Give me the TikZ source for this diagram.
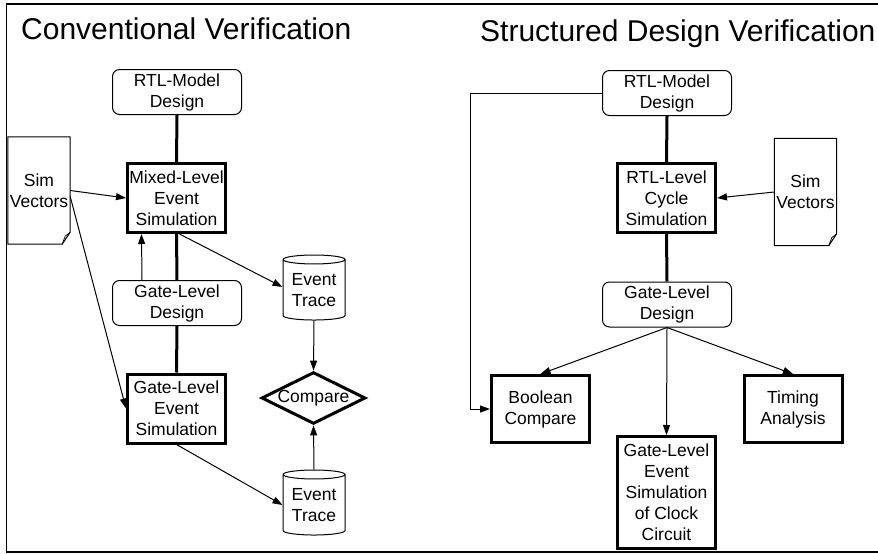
\documentclass[tikz,border=0pt]{standalone}
\usepackage{fontspec}
\setmainfont{Liberation Sans}
\usetikzlibrary{shapes.geometric,arrows.meta}

\tikzset{
  x=1pt, y=-1pt,
  lbl/.style={font=\fontsize{17.5}{21}\selectfont, align=center, inner sep=0pt},
  ttl/.style={font=\fontsize{30}{36}\selectfont, inner sep=0pt, anchor=base west},
  rbox/.style={lbl, draw, line width=1pt, rounded corners=7pt,
               minimum width=129pt, minimum height=45pt},
  tbox/.style={lbl, draw, line width=3pt, minimum width=98pt, minimum height=69pt},
  drum/.style={lbl, draw, line width=1pt, cylinder, shape border rotate=90,
               aspect=0.2, minimum width=62pt, minimum height=65pt},
  decide/.style={lbl, draw, line width=3pt, diamond, aspect=2,
                 minimum width=104pt, minimum height=50pt},
  docnode/.style={lbl, minimum width=62pt, minimum height=107pt},
  flow/.style={line width=1pt, -{Triangle[length=10pt,width=7pt]}},
  link/.style={line width=1pt},
  spine/.style={line width=3pt},
}

\begin{document}
\begin{tikzpicture}
\useasboundingbox (0,0) rectangle (878,554);

% outer frame (open on the right)
\draw[line width=1.3pt] (880,4) -- (6.5,4) -- (6.5,552) -- (880,552);
\draw[line width=2pt] (6.5,552) -- (880,552);

% ---------------- Conventional Verification ----------------
\node[ttl] (tL) at (21,39) {Conventional Verification};

\node[rbox] (rtlL) at (177,92)    {RTL-Model\\Design};
\node[tbox] (mixL) at (176.5,198) {Mixed-Level\\Event\\Simulation};
\node[rbox] (gdL)  at (177,303)   {Gate-Level\\Design};
\node[tbox] (gsL)  at (176.5,408.5) {Gate-Level\\Event\\Simulation};
\node[drum] (etA)  at (314,290)   {Event\\Trace};
\node[drum] (etB)  at (314,505)   {Event\\Trace};
\node[decide] (cmp) at (313.5,398) {Compare};

\node[docnode] (svL) at (39,190.5) {Sim\\Vectors};
\draw[link] (svL.north west) -- (svL.north east) -- ([yshift=12pt]svL.south east)
  -- ([xshift=-8pt]svL.south east) -- (svL.south west) -- cycle;
\draw[line width=0.7pt] ([yshift=12pt]svL.south east) -- ([xshift=-5pt,yshift=8pt]svL.south east)
  -- ([xshift=-8pt]svL.south east);

\draw[spine] (rtlL.south) -- (mixL.north);
\draw[spine] (mixL.south) -- (gdL.north);
\draw[spine] (gdL.south) -- (gsL.north);

\draw[flow] (svL.east) -- (mixL.west);
\draw[flow] ([yshift=-6pt]svL.east) -- (gsL.west);
\draw[flow] ([xshift=-35pt]gdL.north) -- ([xshift=-35pt]mixL.south);
\draw[flow] ([xshift=3pt]mixL.south) -- ([yshift=3pt]etA.west);
\draw[flow] (etA.south) -- (cmp.north);
\draw[flow] (gsL.south) -- (etB.west);
\draw[flow] (etB.north) -- (cmp.south);

% ---------------- Structured Design Verification ----------------
\node[ttl] (tR) at (480,41) {Structured Design Verification};

\node[rbox] (rtlR) at (667,93)    {RTL-Model\\Design};
\node[tbox] (rcs)  at (666.5,198) {RTL-Level\\Cycle\\Simulation};
\node[rbox] (gdR)  at (667,304.5) {Gate-Level\\Design};
\node[tbox, minimum height=67pt] (bc) at (540.5,409) {Boolean\\Compare};
\node[tbox, minimum height=67pt] (ta) at (793,409)   {Timing\\Analysis};
\node[tbox, minimum height=112pt] (clk) at (666.5,492.5)
  {Gate-Level\\Event\\Simulation\\of Clock\\Circuit};

\node[docnode] (svR) at (805.5,192) {Sim\\Vectors};
\draw[link] (svR.north west) -- (svR.north east) -- ([yshift=12pt]svR.south east)
  -- ([xshift=-8pt]svR.south east) -- (svR.south west) -- cycle;
\draw[line width=0.7pt] ([yshift=12pt]svR.south east) -- ([xshift=-5pt,yshift=8pt]svR.south east)
  -- ([xshift=-8pt]svR.south east);

\draw[spine] (rtlR.south) -- (rcs.north);
\draw[spine] (rcs.south) -- (gdR.north);

\draw[flow] (svR.west) -- (rcs.east);
\draw[flow] (rtlR.west) -- ++(-132,0) |- (bc.west);
\draw[flow] (gdR.south) -- (bc.north);
\draw[flow] (gdR.south) -- (clk.north);
\draw[flow] (gdR.south) -- (ta.north);

\end{tikzpicture}
\end{document}
